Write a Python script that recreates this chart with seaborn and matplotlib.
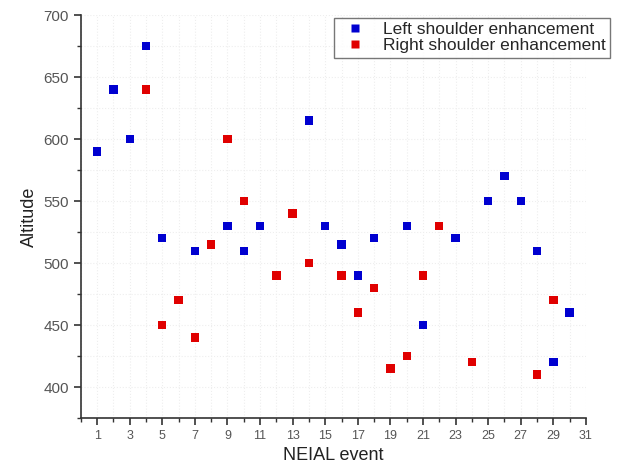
import numpy as np
import pandas as pd
import seaborn as sns
import matplotlib.pyplot as plt
from matplotlib.ticker import MultipleLocator

left_event = [1, 2, 3, 4, 5, 7, 9, 10, 11, 14, 15, 16, 17, 18, 20, 21, 23, 25, 26, 27, 28, 29, 30]
left_alt = [590, 640, 600, 675, 520, 510, 530, 510, 530, 615, 530, 515, 490, 520, 530, 450, 520, 550, 570, 550, 510, 420, 460]
right_event = [4, 5, 6, 7, 8, 9, 10, 12, 13, 14, 16, 17, 18, 19, 20, 21, 22, 24, 28, 29]
right_alt = [640, 450, 470, 440, 515, 600, 550, 490, 540, 500, 490, 460, 480, 415, 425, 490, 530, 420, 410, 470]
series_names = ['Left shoulder enhancement', 'Right shoulder enhancement']

df = pd.concat([
    pd.DataFrame({'event': left_event, 'altitude': left_alt, 'type': series_names[0]}),
    pd.DataFrame({'event': right_event, 'altitude': right_alt, 'type': series_names[1]}),
], ignore_index=True)

sns.set_style('white')
plt.rcParams['font.family'] = ['Liberation Sans', 'DejaVu Sans']

fig = plt.figure(figsize=(6.22, 4.75), dpi=100)
ax = fig.add_axes([0.130, 0.12, 0.812, 0.848])

sns.scatterplot(data=df, x='event', y='altitude', hue='type', marker='s', s=36,
                palette=['#0000d0', '#e00000'], edgecolor='none', ax=ax)

ax.set_xlim(0, 31)
ax.set_ylim(375, 700)
ax.set_xticks(np.arange(1, 32, 2))
ax.xaxis.set_minor_locator(MultipleLocator(1))
ax.set_yticks(np.arange(400, 701, 50))
ax.yaxis.set_minor_locator(MultipleLocator(25))

ax.grid(True, which='both', color='#eeeeee', linestyle=':', linewidth=0.8)
for s in ['top', 'right']:
    ax.spines[s].set_visible(False)
for s in ['left', 'bottom']:
    ax.spines[s].set_color('#333333')
    ax.spines[s].set_linewidth(1.2)

ax.tick_params(axis='both', which='major', direction='out', length=5, width=1.2,
               color='#333333', labelcolor='#555555', bottom=True, left=True)
ax.tick_params(axis='both', which='minor', direction='out', length=3, width=1,
               color='#333333', bottom=True, left=True)
ax.tick_params(axis='x', labelsize=9)
ax.tick_params(axis='y', labelsize=11)

ax.set_xlabel('NEIAL event', fontsize=13, color='#222222')
ax.set_ylabel('Altitude', fontsize=13, color='#222222')

leg = ax.legend(loc='upper right', bbox_to_anchor=(1.065, 1.015), frameon=True, fancybox=False,
                fontsize=12.5, handletextpad=0.6, borderpad=0.25, labelspacing=0.05,
                markerscale=1.0)
leg.get_frame().set_edgecolor('#555555')
leg.get_frame().set_linewidth(1)
leg.set_title(None)

fig.savefig('out.png', dpi=100)
